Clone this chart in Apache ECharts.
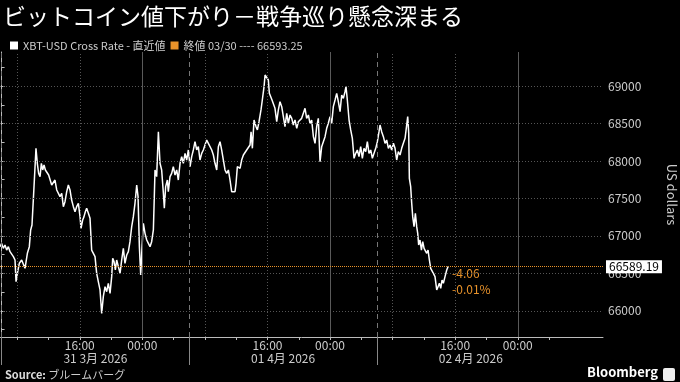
<!DOCTYPE html>
<html><head><meta charset="utf-8">
<script src="https://cdn.jsdelivr.net/npm/echarts@6/dist/echarts.min.js"></script>
<style>html,body{margin:0;padding:0;background:#000;}#c{width:680px;height:382px;}</style>
</head><body><div id="c"></div>
<script>
// ---- data (hours since start of 31 Mar session, price in USD) ----
const TITLE = 'ビットコイン値下がり－戦争巡り懸念深まる';
const SERIES_NAME = 'XBT-USD Cross Rate - 直近値';
const PREV_CLOSE_DATE = '03/30';
const PREV_CLOSE = 66593.25;
const PRICE_POINTS = [
[-0.2,66856],[0.01,66900],[0.23,66834],[0.44,66878],[0.65,66811],[0.87,66856],[1.08,66789],[1.29,66803],[1.51,66723],[1.72,66678],
[1.85,66389],[2.02,66500],[2.27,66634],[2.57,66678],[2.78,66700],[3.0,66567],[3.12,66545],[3.3,66767],[3.55,66856],[3.72,67079],
[3.89,67145],[4.06,67479],[4.28,67924],[4.4,68169],[4.57,67969],[4.74,67835],[4.92,67791],[5.09,67969],[5.26,67880],[5.43,67946],
[5.6,67880],[5.77,67902],[6.02,67813],[6.19,67791],[6.41,67679],[6.62,67657],[6.83,67746],[7.05,67613],[7.26,67635],[7.47,67524],
[7.69,67568],[7.9,67390],[8.11,67457],[8.33,67590],[8.54,67679],[8.75,67613],[8.96,67479],[9.18,67390],[9.39,67323],[9.6,67390],
[9.82,67435],[10.03,67257],[10.16,67101],[10.37,67212],[10.54,67257],[10.71,67323],[10.88,67368],[11.1,67301],[11.31,67234],[11.52,66811],
[11.74,66811],[11.95,66723],[12.16,66500],[12.37,66389],[12.59,66278],[12.8,65966],[13.01,66189],[13.23,66322],[13.44,66255],[13.65,66367],
[13.87,66233],[14.08,66456],[14.21,66700],[14.38,66656],[14.55,66545],[14.72,66678],[14.93,66656],[15.15,66500],[15.36,66678],[15.57,66834],
[15.78,66634],[16.0,66745],[16.21,66789],[16.42,66923],[16.64,67123],[16.85,67257],[17.06,67435],[17.28,67679],[17.45,67524],[17.62,66856],
[17.79,66478],[17.96,66856],[18.13,67168],[18.34,67034],[18.56,66945],[18.77,66900],[18.98,66856],[19.19,66923],[19.41,67079],
[19.53,67524],[19.62,67880],[19.83,67791],[20.05,68391],[20.26,67969],[20.47,67880],[20.69,67568],[20.81,67368],[20.98,67657],[21.2,67746],
[21.32,67590],[21.54,67791],[21.75,67835],[21.96,67924],[22.18,67813],[22.39,67880],[22.6,67746],[22.82,67969],[23.03,68058],[23.24,67969],
[23.46,68102],[23.67,68013],[23.88,68147],[24.1,67924],[24.31,68058],[24.52,68147],[24.73,68258],[24.95,68147],[25.16,68191],[25.37,68013],
[25.59,68102],[25.8,68147],[26.01,68213],[26.23,68280],[26.44,68236],[26.65,68213],[26.87,68147],[27.08,68080],[27.29,67969],[27.51,67880],
[27.72,68191],[27.93,68258],[28.14,68147],[28.36,68013],[28.57,67880],[28.78,67835],[29.0,67880],[29.21,67746],[29.42,67590],[29.64,67613],
[29.85,67590],[29.98,67702],[30.15,67924],[30.32,67946],[30.49,67902],[30.7,68013],[30.92,68080],[31.13,68058],[31.34,68147],[31.55,68124],
[31.77,68213],[31.9,68391],[32.07,68169],[32.28,68547],[32.54,68458],[32.71,68414],[32.92,68525],[33.17,68681],[33.34,68814],[33.56,68992],
[33.69,69148],[33.9,69126],[34.11,69081],[34.24,68903],[34.41,68925],[34.58,68814],[34.75,68836],[34.96,68703],[35.18,68525],[35.39,68681],
[35.6,68792],[35.82,68725],[36.03,68592],[36.24,68458],[36.46,68636],[36.67,68503],[36.88,68614],[37.1,68569],[37.31,68480],[37.52,68547],
[37.74,68436],[37.95,68525],[38.16,68547],[38.37,68569],[38.59,68592],
[38.8,68703],[39.01,68569],[39.23,68614],[39.44,68503],[39.65,68547],[39.87,68325],[40.08,68236],[40.29,68458],[40.5,68569],[40.72,67991],
[40.93,68191],[41.14,68169],[41.36,68325],[41.57,68436],[41.78,68503],[42.0,68592],[42.21,68503],[42.42,68725],[42.64,68814],[42.85,68903],
[43.06,68792],[43.28,68658],[43.49,68881],[43.7,68836],[43.91,68925],[44.04,68992],[44.21,68814],[44.43,68547],[44.64,68414],[44.85,68302],
[45.07,68035],[45.28,68102],[45.49,68147],[45.7,68058],[45.92,68191],[46.13,68035],[46.34,68169],[46.56,68124],[46.77,68258],[46.98,68102],
[47.2,68147],[47.41,68035],[47.62,68013],[47.84,68169],[48.05,68258],[48.26,68391],[48.39,68480],[48.6,68391],[48.82,68325],[49.03,68236],
[49.24,68280],[49.46,68169],[49.67,68213],[49.88,68147],[50.1,68236],[50.31,68169],[50.52,68013],[50.73,68124],[50.95,68080],[51.16,68169],
[51.37,68236],[51.59,68302],[51.8,68480],[51.93,68592],[52.06,68369],[52.14,67768],[52.31,67657],[52.44,67435],[52.57,67257],[52.74,67123],
[52.91,67301],[53.08,67123],[53.21,67034],[53.33,66878],[53.5,66945],[53.68,66811],[53.85,66923],[54.02,66834],[54.19,66856],[54.36,66767],
[54.53,66811],[54.7,66678],[54.87,66567],[55.04,66589],[55.21,66500],[55.42,66456],[55.64,66278],[55.81,66322],[55.98,66367],[56.15,66300],
[56.32,66411],[56.49,66367],[56.7,66456],[56.92,66545],[57.09,66589.19]
];
const Y_LABELS = [66000, 66500, 67000, 67500, 68000, 68500, 69000];
const Y_MINOR = [65750,66000,66250,66500,66750,67000,67250,67500,67750,68000,68250,68500,68750,69000,69250];
const TIME_TICKS = [10, 18, 34, 42, 58, 66];           // label positions (hours)
const TIME_LABELS = ['16:00','00:00','16:00','00:00','16:00','00:00'];
const MINOR_X = [2,6,10,14,18,22,26,30,34,38,42,46,50,54,58,62,66,70];
const DAY_STARTS = [0, 24, 48];
const DAY_CENTERS = [12, 36, 60];
const DAY_LABELS = ['31 3月 2026', '01 4月 2026', '02 4月 2026'];
const GRID_DOTTED_X = [2, 10, 26, 34, 50, 58];
const GRID_SOLID_X = [18, 42, 66];
const XMIN = -0.2, XMAX = 76.9, YMIN = 65650, YMAX = 69455;

const FONT = "'Noto Sans CJK JP','Noto Sans',sans-serif";
const ORANGE = '#e8922a';
const last = PRICE_POINTS[PRICE_POINTS.length - 1][1];
const diff = last - PREV_CLOSE;
const pct = diff / PREV_CLOSE * 100;
const changeText = diff.toFixed(2) + '\n' + pct.toFixed(2) + '%';
const PREV_NAME = '終値 ' + PREV_CLOSE_DATE + ' ---- ' + PREV_CLOSE;

const gridLines = [];
Y_LABELS.forEach(v => gridLines.push({yAxis: v, lineStyle: {color: '#555', type: [1, 2], width: 1}}));
GRID_DOTTED_X.forEach(v => gridLines.push({xAxis: v, lineStyle: {color: '#555', type: [1, 2], width: 1}}));
GRID_SOLID_X.forEach(v => gridLines.push({xAxis: v, lineStyle: {color: '#5a5a5a', type: 'solid', width: 1}}));
DAY_STARTS.forEach(v => gridLines.push({xAxis: v, lineStyle: {color: '#777', type: [5, 4], width: 1}}));

const chart = echarts.init(document.getElementById('c'), null, {renderer: 'canvas'});
chart.setOption({
  backgroundColor: '#000',
  animation: false,
  textStyle: {fontFamily: FONT},
  title: {text: TITLE, left: -2, top: 0, textStyle: {color: '#fff', fontSize: 23, fontWeight: 'normal', fontFamily: FONT}},
  legend: {
    left: 5, top: 35, icon: 'rect', itemWidth: 8, itemHeight: 8, itemGap: 5,
    textStyle: {color: '#ccc', fontSize: 11, fontFamily: FONT},
    data: [SERIES_NAME, PREV_NAME]
  },
  grid: {left: 0, right: 77, top: 52, bottom: 45, outerBoundsMode: 'none'},
  xAxis: [{
    type: 'value', min: XMIN, max: XMAX, position: 'bottom',
    axisLine: {show: true, lineStyle: {color: '#bbb', width: 1}},
    axisTick: {show: true, customValues: MINOR_X, length: 3, lineStyle: {color: '#bbb'}},
    axisLabel: {show: true, customValues: TIME_TICKS, color: '#ccc', fontSize: 12, margin: 2,
      formatter: v => TIME_LABELS[TIME_TICKS.indexOf(v)]},
    splitLine: {show: false}
  }, {
    type: 'value', min: XMIN, max: XMAX, position: 'bottom',
    axisLine: {show: false},
    axisTick: {show: true, customValues: DAY_STARTS, length: 28, lineStyle: {color: '#888'}},
    axisLabel: {show: true, customValues: DAY_CENTERS, color: '#ccc', fontSize: 12, margin: 15,
      formatter: v => DAY_LABELS[DAY_CENTERS.indexOf(v)]},
    splitLine: {show: false}
  }],
  yAxis: {
    type: 'value', position: 'right', min: YMIN, max: YMAX,
    name: 'US dollars', nameLocation: 'middle', nameRotate: -90, nameGap: 62,
    nameTextStyle: {color: '#ccc', fontSize: 13},
    axisLine: {show: true, lineStyle: {color: '#bbb', width: 1}},
    axisTick: {show: true, customValues: Y_MINOR, length: 3, lineStyle: {color: '#bbb'}},
    axisLabel: {show: true, customValues: Y_LABELS, color: '#ccc', fontSize: 12, margin: 5,
      formatter: v => String(v)},
    splitLine: {show: false}
  },
  series: [{
    name: 'grid', type: 'line', data: [], z: 1, silent: true,
    markLine: {silent: true, symbol: 'none', label: {show: false}, animation: false, data: gridLines}
  }, {
    name: PREV_NAME, type: 'line', data: [], z: 2,
    itemStyle: {color: ORANGE}, lineStyle: {color: ORANGE},
    markLine: {silent: true, symbol: 'none', animation: false, label: {show: false},
      lineStyle: {color: ORANGE, type: [1, 1], width: 1}, data: [{yAxis: PREV_CLOSE}]}
  }, {
    name: SERIES_NAME, type: 'line', z: 3, showSymbol: false, symbol: 'none',
    data: PRICE_POINTS,
    itemStyle: {color: '#fff'},
    lineStyle: {color: '#fff', width: 1.5},
    endLabel: {show: true, formatter: () => changeText, color: ORANGE, fontSize: 12, lineHeight: 16,
      offset: [0, 15], distance: 4},
    markLine: {silent: true, symbol: 'none', animation: false, z: 10,
      lineStyle: {color: 'rgba(0,0,0,0)', width: 0},
      label: {show: true, position: 'end', distance: 3, formatter: () => last.toFixed(2),
        backgroundColor: '#fff', color: '#000', fontSize: 12, padding: [1, 3, 0, 3]},
      data: [{yAxis: last}]}
  }],
  graphic: [
    {type: 'text', left: 5, top: 369, style: {
      text: '{b|Source:} ブルームバーグ', fill: '#ccc', font: '11px ' + FONT,
      rich: {b: {fontWeight: 'bold', fill: '#ddd', fontSize: 11, fontFamily: FONT}}}},
    {type: 'text', right: 22, top: 366, style: {text: 'Bloomberg', fill: '#fff', font: 'bold 13px ' + FONT}},
    {type: 'rect', right: 5, top: 368, shape: {width: 12, height: 13, r: 2}, style: {fill: '#eee'}}
  ]
});
</script></body></html>
